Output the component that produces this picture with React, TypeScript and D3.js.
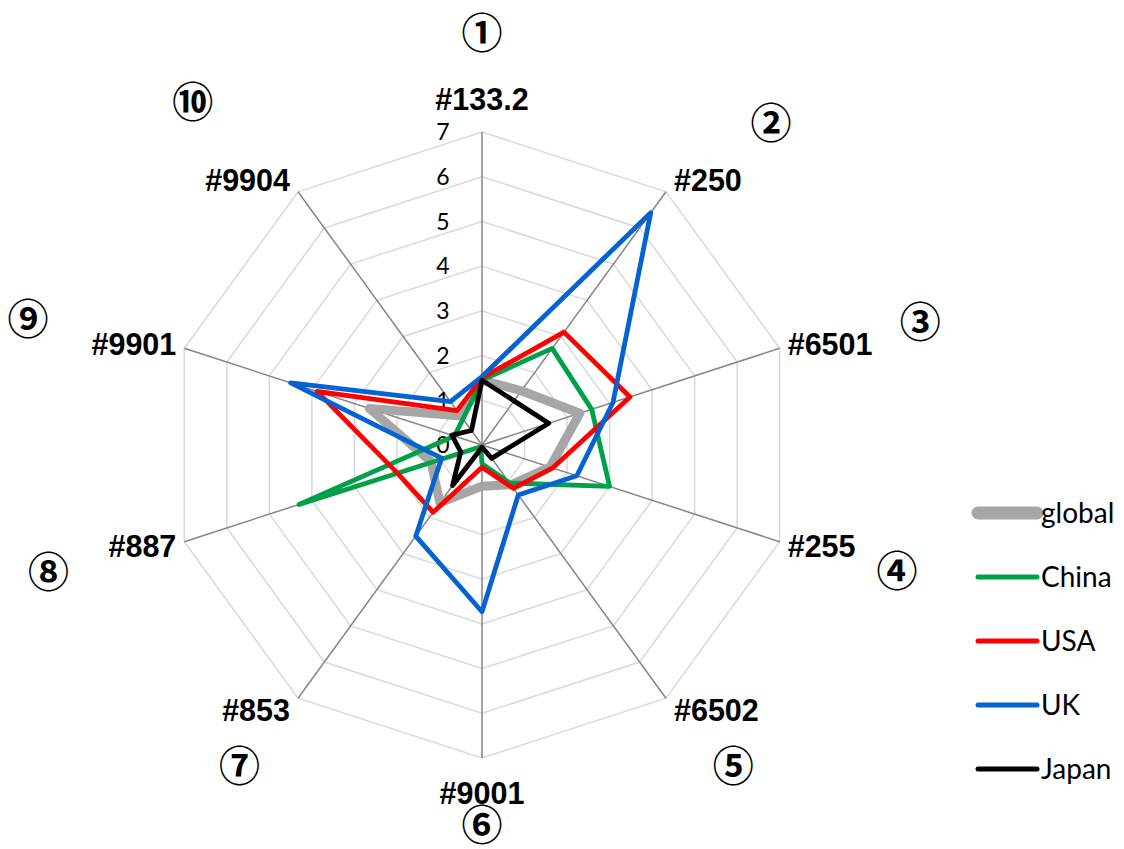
import React from "react";
import * as d3 from "d3";

// Axis categories, clockwise from the top
const categories = ["#133.2", "#250", "#6501", "#255", "#6502", "#9001", "#853", "#887", "#9901", "#9904"];
const circledNumbers = ["①", "②", "③", "④", "⑤", "⑥", "⑦", "⑧", "⑨", "⑩"];
const tickValues = [0, 1, 2, 3, 4, 5, 6, 7];

// Series values per category
const globalValues = [1.45, 1.5, 2.3, 1.6, 1.1, 0.92, 1.6, 1.2, 2.65, 0.8];
const chinaValues = [1.45, 2.67, 2.58, 3.0, 1.05, 0.42, 0.05, 4.3, 0.65, 0.72];
const usaValues = [1.5, 3.12, 3.48, 1.66, 1.2, 0.5, 1.86, 2.0, 3.88, 0.95];
const ukValues = [1.53, 6.42, 3.08, 2.23, 1.38, 3.73, 2.52, 0.95, 4.5, 1.2];
const japanValues = [1.45, 1.22, 1.57, 0.48, 0.37, 0.05, 1.12, 0.5, 0.71, 0.4];

const seriesNames = ["global", "China", "USA", "UK", "Japan"];
const seriesData = [globalValues, chinaValues, usaValues, ukValues, japanValues];
const seriesColors = ["#a6a6a6", "#00a04a", "#ff0000", "#0563d1", "#000000"];
const seriesWidths = [9, 4.8, 4.8, 4.8, 4.8];
const legendWidths = [13, 5, 5, 5, 5];

// Layout
const W = 1124;
const H = 849;
const CX = 482;
const CY = 445;
const R = 313;
// polar placement of the circled numbers: [radius, angle in degrees]
const circledPlacement: [number, number][] = [
  [411, 0], [432, 42], [455, 74.4], [434, 107], [408, 142],
  [381, 180], [403, 217], [452, 253.6], [471, 285.4], [448, 319.8],
];

export default function App() {
  const n = categories.length;
  const angle = d3.scaleLinear().domain([0, n]).range([0, 2 * Math.PI]);
  const r = d3.scaleLinear().domain([0, 7]).range([0, R]);

  const pt = (i: number, v: number): [number, number] => {
    const a = angle(i);
    return [CX + r(v) * Math.sin(a), CY - r(v) * Math.cos(a)];
  };

  const lineGen = d3
    .line<number>()
    .x((v, i) => pt(i, v)[0])
    .y((v, i) => pt(i, v)[1])
    .curve(d3.curveLinearClosed);

  const ring = (v: number) => lineGen(d3.range(n).map(() => v)) || "";

  const axisFont = "'Liberation Sans', Arial, sans-serif";
  const bodyFont = "Lato, 'Open Sans', sans-serif";

  return (
    <svg width={W} height={H} style={{ position: "absolute", left: 0, top: 0, background: "#fff" }}>
      {/* grid rings */}
      <g fill="none" stroke="#d9d9d9" strokeWidth={1.5}>
        {tickValues.slice(1).map((t) => (
          <path key={t} d={ring(t)} />
        ))}
      </g>
      {/* spokes */}
      <g stroke="#868686" strokeWidth={1.5}>
        {categories.map((c, i) => {
          const [x, y] = pt(i, 7);
          return <line key={c} x1={CX} y1={CY} x2={x} y2={y} />;
        })}
      </g>
      {/* tick labels */}
      <g fontFamily={bodyFont} fontSize={23} fill="#000" textAnchor="middle">
        {tickValues.map((t) => (
          <text key={t} x={CX - 39} y={CY - r(t)} dy="0.36em">
            {t}
          </text>
        ))}
      </g>
      {/* series */}
      <g fill="none" strokeLinejoin="round" strokeLinecap="round">
        {seriesData.map((vals, k) => (
          <path
            key={seriesNames[k]}
            d={lineGen(vals) || ""}
            stroke={seriesColors[k]}
            strokeWidth={seriesWidths[k]}
          />
        ))}
      </g>
      {/* category labels */}
      <g fontFamily={axisFont} fontWeight="bold" fontSize={30.5} fill="#000">
        {categories.map((c, i) => {
          const a = angle(i);
          const s = Math.sin(a);
          const co = Math.cos(a);
          const [vx, vy] = pt(i, 7);
          let x = vx;
          let y = vy;
          let anchor: "start" | "end" | "middle" = "middle";
          if (Math.abs(s) < 0.1) {
            y = co > 0 ? vy - 33 : vy + 35;
          } else {
            anchor = s > 0 ? "start" : "end";
            x = s > 0 ? vx + 8 : vx - 8;
            y = vy - 14 * co;
          }
          return (
            <text key={c} x={x} y={y} dy="0.36em" textAnchor={anchor}>
              {c}
            </text>
          );
        })}
      </g>
      {/* circled numbers */}
      <g fontFamily="'Noto Sans CJK JP', sans-serif" fontWeight="bold" fontSize={41} fill="#000" textAnchor="middle">
        {circledNumbers.map((c, i) => {
          const [rr, deg] = circledPlacement[i];
          const a = (deg * Math.PI) / 180;
          return (
            <text key={c} x={CX + rr * Math.sin(a)} y={CY - rr * Math.cos(a)} dy="0.35em">
              {c}
            </text>
          );
        })}
      </g>
      {/* legend */}
      <g fontFamily={bodyFont} fontSize={28} fill="#000">
        {seriesNames.map((name, k) => {
          const y = 513 + k * 64;
          return (
            <g key={name}>
              <line
                x1={978}
                x2={1037}
                y1={y}
                y2={y}
                stroke={seriesColors[k]}
                strokeWidth={legendWidths[k]}
                strokeLinecap="round"
              />
              <text x={1041} y={y} dy="0.35em">
                {name}
              </text>
            </g>
          );
        })}
      </g>
    </svg>
  );
}
